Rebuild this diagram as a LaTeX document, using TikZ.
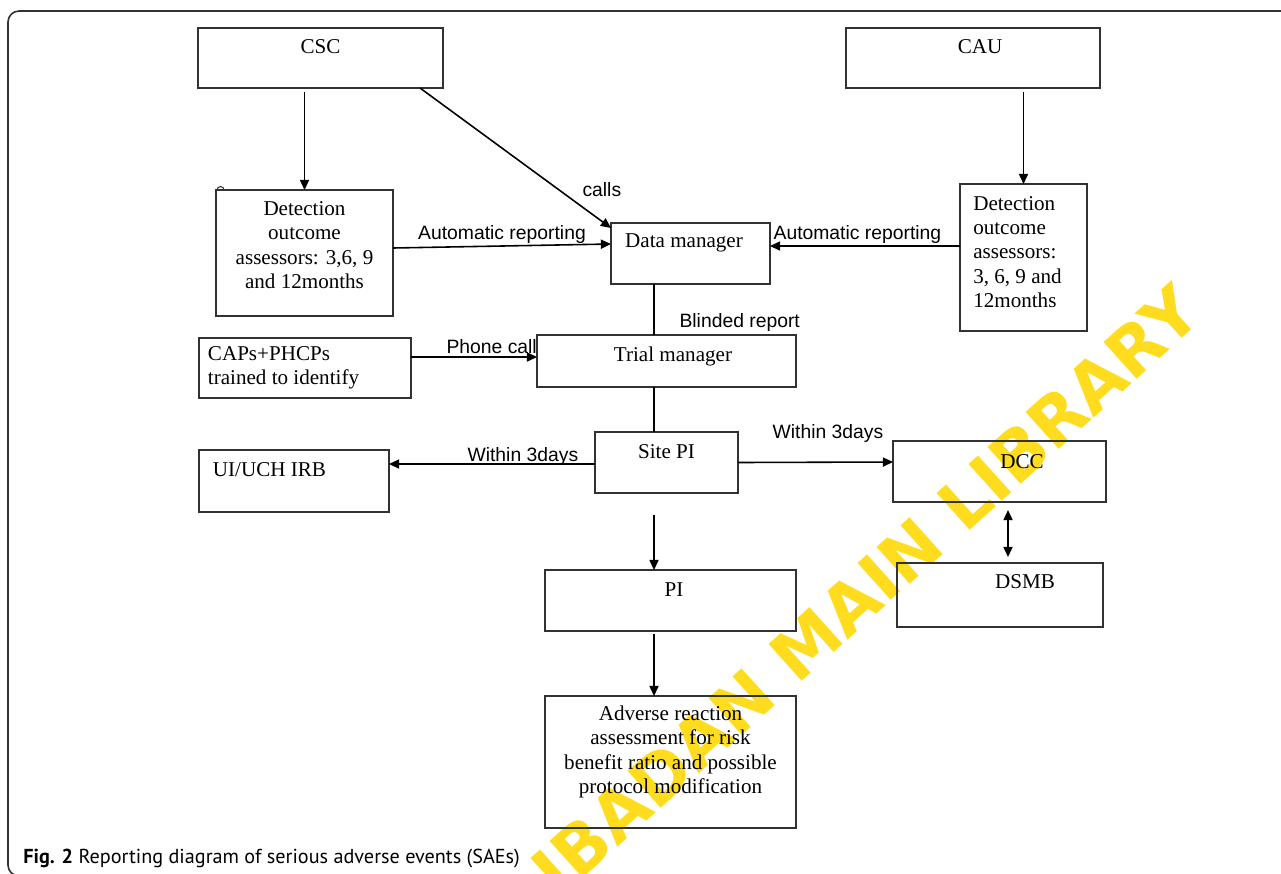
\documentclass[tikz,border=0pt]{standalone}
\usepackage{fontspec}
\setmainfont{Liberation Serif}
\newfontfamily\labelfont{Liberation Sans}
\newfontfamily\capfont{PT Sans}
\newfontfamily\markfont{DejaVu Sans}
\usetikzlibrary{arrows.meta}
\definecolor{markyellow}{RGB}{255,220,30}
\definecolor{framegray}{RGB}{50,50,50}

\begin{document}
\begin{tikzpicture}
[x=0.02cm,y=-0.02cm,
box/.style={draw=framegray,line width=0.8pt,inner sep=0pt,outer sep=0pt},
txt/.style={font=\fontsize{12}{13.9}\selectfont,align=center,inner sep=0pt},
arr/.style={line width=0.9pt,-{Triangle[length=5.8pt,width=5.2pt]}},
both/.style={line width=0.9pt,{Triangle[length=5.8pt,width=5.2pt]}-{Triangle[length=5.8pt,width=5.2pt]}},
link/.style={line width=0.9pt},
tag/.style={font=\labelfont\fontsize{11}{13}\selectfont,inner sep=1pt}]
\useasboundingbox (0,0) rectangle (1281,873);
\clip (0,0) rectangle (1281,873);
\fill[white] (0,0) rectangle (1281,873);
\node[rotate=42,text=markyellow,font=\markfont\bfseries\fontsize{38.7}{40}\selectfont] (mark) at (866,590) {IBADAN MAIN LIBRARY};
\draw[framegray,line width=0.9pt,rounded corners=0.22cm] (8,11) rectangle (1300,876);

\node[box,minimum width=4.9cm,minimum height=1.2cm,label={[txt,yshift=0.22cm]center:CSC}] (csc) at (320.5,58) {};
\node[box,minimum width=5.08cm,minimum height=1.2cm,label={[txt,xshift=0.14cm,yshift=0.22cm]center:CAU}] (cau) at (973,58) {};
\node[box,minimum width=3.54cm,minimum height=2.52cm,label={[txt,yshift=0.16cm]center:{Detection\\outcome\\assessors: 3,6, 9\\and 12months}}] (det1) at (304.5,253) {};
\node[box,minimum width=3.18cm,minimum height=1.22cm,label={[txt,xshift=-0.13cm,yshift=0.21cm]center:Data manager}] (dm) at (690.5,253.5) {};
\node[box,minimum width=2.54cm,minimum height=2.94cm,label={[txt,align=left,xshift=-0.12cm,yshift=0.11cm]center:{Detection\\outcome\\assessors:\\3, 6, 9 and\\12months}}] (det2) at (1023.5,257.5) {};
\node[box,minimum width=4.24cm,minimum height=1.2cm,label={[txt,align=left,xshift=-0.43cm]center:{CAPs+PHCPs\\trained to identify}}] (caps) at (305,368) {};
\node[box,minimum width=5.18cm,minimum height=1.04cm,label={[txt,xshift=0.13cm,yshift=0.1cm]center:Trial manager}] (trial) at (666.5,361) {};
\node[box,minimum width=2.86cm,minimum height=1.22cm,label={[txt,yshift=0.21cm]center:Site PI}] (sitepi) at (666.5,462.5) {};
\node[box,minimum width=3.8cm,minimum height=1.24cm,label={[txt,xshift=-0.49cm,yshift=0.22cm]center:UI/UCH IRB}] (irb) at (294,481) {};
\node[box,minimum width=4.26cm,minimum height=1.22cm,label={[txt,xshift=0.45cm,yshift=0.19cm]center:DCC}] (dcc) at (999.5,471.5) {};
\node[box,minimum width=4.12cm,minimum height=1.28cm,label={[txt,xshift=0.5cm,yshift=0.26cm]center:DSMB}] (dsmb) at (1000,595) {};
\node[box,minimum width=5.02cm,minimum height=1.22cm,label={[txt,xshift=0.07cm,yshift=0.21cm]center:PI}] (pi) at (670.5,600.5) {};
\node[box,minimum width=5.02cm,minimum height=2.64cm,label={[txt,yshift=0.2cm]center:{Adverse reaction\\assessment for risk\\benefit ratio and possible\\protocol modification}}] (adverse) at (670.5,762) {};
\coordinate (spine) at (654,0);
\draw[framegray,line width=0.6pt] ([xshift=0.02cm]det1.north west) arc (180:0:0.07cm);

\draw[arr,shorten <=0.08cm] (csc.south -| det1) -- (det1.north);
\draw[arr] ([xshift=-0.46cm]csc.south east) -- node[tag,pos=0.78,anchor=west,xshift=0.22cm,yshift=0.16cm] {calls} ([yshift=-0.1cm]dm.north west);
\draw[arr] ([yshift=0.1cm]det1.east) -- node[tag,above] {Automatic reporting} ([yshift=0.19cm]dm.west);
\draw[arr,shorten <=0.08cm] (cau.south -| det2) -- (det2.north);
\draw[arr] ([yshift=0.23cm]det2.west) -- node[tag,pos=0.54,above] {Automatic reporting} ([yshift=0.15cm]dm.east);
\draw[link] (dm.south -| spine) -- node[tag,pos=0.76,anchor=west,xshift=0.46cm] {Blinded report} (trial.north -| spine);
\draw[arr] ([yshift=0.22cm]caps.east) -- node[tag,pos=0.64,above,yshift=0.02cm] {Phone call} ([yshift=0.08cm]trial.west);
\draw[link] (trial.south -| spine) -- (sitepi.north -| spine);
\draw[arr] ([yshift=-0.03cm]sitepi.west) -- node[tag,pos=0.35,above,yshift=-0.08cm] {Within 3days} ([yshift=0.34cm]irb.east);
\draw[arr] (sitepi.east) -- node[tag,pos=0.58,above,yshift=0.34cm] {Within 3days} ([yshift=0.19cm]dcc.west);
\draw[both,shorten <=0.16cm,shorten >=0.12cm] ([xshift=0.17cm]dcc.south) -- ([xshift=0.16cm]dsmb.north);
\draw[arr,shorten <=0.44cm] (sitepi.south -| spine) -- (pi.north -| spine);
\draw[arr,shorten <=0.06cm] (pi.south -| spine) -- (adverse.north -| spine);

\node[anchor=west,inner sep=0pt,font=\capfont\fontsize{11.5}{13}\selectfont] (caption) at (23,858) {\textbf{Fig. 2} Reporting diagram of serious adverse events (SAEs)};
\end{tikzpicture}
\end{document}
